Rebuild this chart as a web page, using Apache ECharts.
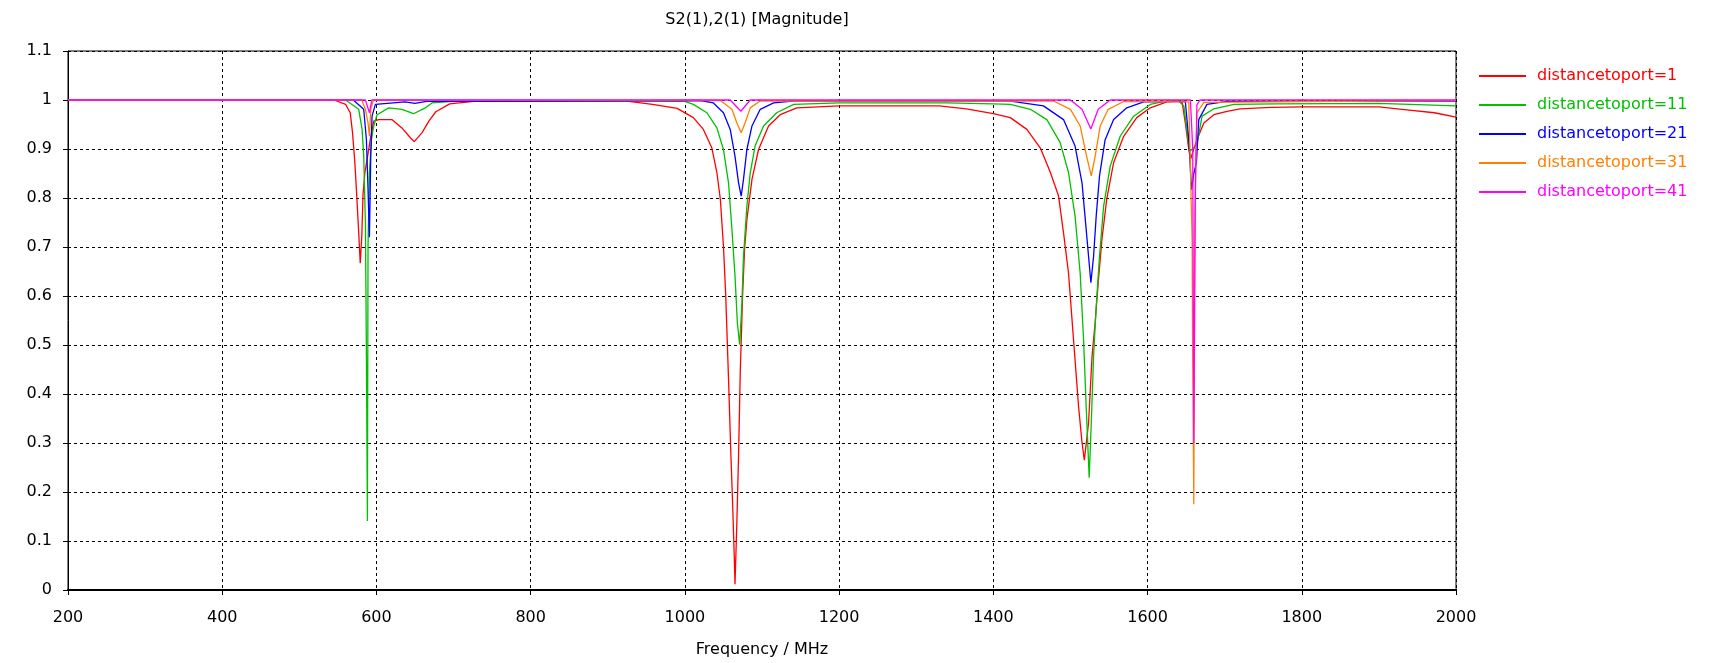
<!DOCTYPE html>
<html>
<head>
<meta charset="utf-8">
<script src="https://cdn.jsdelivr.net/npm/echarts@6/dist/echarts.min.js"></script>
<style>
  html, body { margin: 0; padding: 0; background: #fff; }
  #chart { width: 1716px; height: 663px; }
</style>
</head>
<body>
<div id="chart"></div>
<script>
// x = frequency (MHz), y = |S21|
const port1 = [
  [200, 1], [545, 1], [560, 0.991], [566, 0.974], [569, 0.933], [572, 0.872], [574, 0.818],
  [577, 0.729], [579, 0.667], [581, 0.722], [582.6, 0.807], [585, 0.852], [588, 0.88],
  [592, 0.919], [596.5, 0.957], [603, 0.96], [620, 0.96], [633, 0.943], [644, 0.923],
  [649, 0.915], [659, 0.933], [668, 0.957], [677, 0.976], [695, 0.992], [726, 0.997],
  [927, 0.997], [958, 0.991], [990, 0.983], [1011, 0.964], [1024, 0.94], [1035, 0.902],
  [1041.5, 0.852], [1046, 0.797], [1050, 0.702], [1053, 0.6], [1056.6, 0.43], [1059.7, 0.274],
  [1062, 0.172], [1064, 0.07], [1065, 0.012], [1067.4, 0.138], [1069.6, 0.274], [1071.8, 0.444],
  [1074.8, 0.6], [1077.4, 0.695], [1080.4, 0.756], [1087, 0.838], [1095.5, 0.899],
  [1108.5, 0.947], [1123.6, 0.97], [1145, 0.984], [1200, 0.988], [1330, 0.988], [1365, 0.982],
  [1400, 0.972], [1422, 0.964], [1443.5, 0.94], [1461, 0.902], [1474, 0.852], [1484.6, 0.804],
  [1491, 0.729], [1497.5, 0.647], [1504, 0.511], [1510.5, 0.375], [1515, 0.301], [1518, 0.265],
  [1523.5, 0.341], [1528, 0.477], [1532, 0.545], [1536, 0.627], [1540.8, 0.715], [1547, 0.797],
  [1556, 0.872], [1569, 0.926], [1586, 0.964], [1603.5, 0.984], [1625, 0.996], [1640, 0.998],
  [1645, 0.994], [1649, 0.953], [1653.5, 0.899], [1656, 0.88], [1660, 0.9], [1664, 0.919],
  [1673, 0.953], [1686, 0.97], [1703, 0.977], [1720, 0.982], [1760, 0.985], [1800, 0.986],
  [1900, 0.986], [1936, 0.98], [1972, 0.974], [2000, 0.965]
]
const port11 = [
  [200, 1], [560, 1], [577, 0.981], [581.4, 0.94], [583.5, 0.885], [585.7, 0.749], [587, 0.477],
  [588.3, 0.141], [589.1, 0.702], [590.9, 0.852], [593.5, 0.919], [596.5, 0.947], [600.8, 0.97],
  [616, 0.984], [633, 0.981], [648, 0.972], [663.5, 0.984], [672, 0.994], [704, 0.998],
  [950, 0.998], [1000, 0.997], [1011, 0.991], [1028.5, 0.974], [1041.5, 0.943], [1050, 0.899],
  [1056.6, 0.831], [1061, 0.736], [1065, 0.641], [1068, 0.546], [1071, 0.501], [1074, 0.586],
  [1076, 0.681], [1080.4, 0.783], [1084.7, 0.851], [1091, 0.906], [1102, 0.947], [1119, 0.974],
  [1141, 0.991], [1200, 0.994], [1340, 0.994], [1400, 0.992], [1422, 0.991], [1448, 0.981],
  [1469.4, 0.96], [1486.7, 0.913], [1497.5, 0.852], [1506, 0.763], [1512.6, 0.647], [1517, 0.511],
  [1520.4, 0.375], [1524.3, 0.229], [1527, 0.341], [1530, 0.477], [1533.4, 0.579], [1537.7, 0.681],
  [1543, 0.783], [1551.6, 0.865], [1564.5, 0.926], [1582, 0.967], [1603.5, 0.991], [1625, 0.998],
  [1640, 0.998], [1647, 0.988], [1651, 0.94], [1654.7, 0.895], [1658, 0.9], [1664, 0.909],
  [1670.7, 0.967], [1686, 0.982], [1712, 0.991], [1766, 0.992], [1900, 0.993], [2000, 0.988]
]
const port21 = [
  [200, 1], [570, 1], [583.5, 0.981], [587, 0.919], [589.1, 0.818], [590.9, 0.72], [592.6, 0.885],
  [594.3, 0.967], [598.6, 0.991], [637, 0.996], [650, 0.993], [665, 0.997], [1020, 0.999],
  [1037, 0.994], [1050, 0.974], [1058.8, 0.94], [1065, 0.885], [1069.6, 0.831], [1073, 0.804],
  [1076, 0.838], [1080.4, 0.899], [1087, 0.947], [1097.7, 0.981], [1115, 0.994], [1140, 0.998],
  [1420, 0.998], [1465, 0.988], [1491, 0.96], [1506, 0.906], [1515, 0.831], [1520.4, 0.736],
  [1526.5, 0.627], [1530, 0.681], [1533.4, 0.763], [1537.7, 0.845], [1545, 0.919], [1556, 0.96],
  [1573, 0.984], [1595, 0.996], [1649, 0.997], [1653.5, 0.919], [1657, 0.817], [1660, 0.85],
  [1663.4, 0.872], [1666.4, 0.96], [1677, 0.991], [1703, 0.997], [2000, 0.998]
]
const port31 = [
  [200, 1], [581, 1], [585.7, 0.981], [589.1, 0.953], [590.9, 0.926], [592.6, 0.981], [596, 1],
  [1046, 0.999], [1061, 0.981], [1067.4, 0.953], [1073, 0.933], [1078, 0.953], [1084.7, 0.984],
  [1097.7, 0.998], [1478, 0.998], [1500, 0.981], [1512.6, 0.947], [1521, 0.885], [1527, 0.845],
  [1532, 0.885], [1538.6, 0.947], [1549, 0.981], [1569, 0.997], [1653.5, 0.996], [1657.8, 0.715],
  [1658.6, 0.457], [1660, 0.175], [1661.2, 0.749], [1664, 0.974], [1673, 0.995], [2000, 0.999]
]
const port41 = [
  [200, 1], [585.7, 1], [590.9, 0.974], [594, 1], [1058.8, 1], [1072.6, 0.977], [1084.7, 1],
  [1500, 1], [1515, 0.981], [1526.5, 0.941], [1536, 0.981], [1551.6, 1], [1655.6, 1],
  [1658.6, 0.9], [1660, 0.3], [1662, 0.817], [1664, 0.99], [1668, 1], [2000, 1]
]

const seriesNames = ['distancetoport=1', 'distancetoport=11', 'distancetoport=21', 'distancetoport=31', 'distancetoport=41']
const seriesData = [port1, port11, port21, port31, port41]
const colors = ['#ff0000', '#00c000', '#0000ff', '#ff8000', '#ff00ff']

const FONT = 'DejaVu Sans'

const chart = echarts.init(document.getElementById('chart'), null, { renderer: 'canvas' })

const options = {
  animation: false,
  backgroundColor: '#fff',
  color: colors,
  title: {
    text: 'S2(1),2(1) [Magnitude]',
    left: 752,
    textAlign: 'center',
    top: 7,
    textStyle: { fontFamily: FONT, fontSize: 16, fontWeight: 'normal', color: '#000' }
  },
  legend: {
    orient: 'vertical',
    left: 1474,
    top: 63,
    icon: 'rect',
    itemWidth: 47,
    itemHeight: 2,
    itemGap: 13,
    data: seriesNames.map((name, i) => ({
      name,
      textStyle: { color: colors[i], fontFamily: FONT, fontSize: 16, padding: [0, 0, 0, 6] }
    }))
  },
  grid: {
    left: 68,
    right: 260,
    top: 51,
    bottom: 72,
    show: true,
    borderColor: '#000',
    borderWidth: 1
  },
  xAxis: [{
    type: 'value',
    min: 200,
    max: 2000,
    interval: 200,
    name: 'Frequency / MHz',
    nameLocation: 'middle',
    nameGap: 52,
    nameTextStyle: { fontFamily: FONT, fontSize: 16, color: '#000' },
    axisLine: { onZero: false, lineStyle: { color: '#000', width: 2 } },
    axisTick: { show: true, length: 5, lineStyle: { color: '#000' } },
    axisLabel: { margin: 20, fontFamily: FONT, fontSize: 16, color: '#000', formatter: v => String(v) },
    splitLine: { show: true, lineStyle: { color: '#000', type: [3, 3], width: 1 } }
  }, {
    // heavy top frame line only
    type: 'value',
    position: 'top',
    min: 200,
    max: 2000,
    axisLine: { show: true, lineStyle: { color: '#000', width: 2 } },
    axisTick: { show: false },
    axisLabel: { show: false },
    splitLine: { show: false }
  }],
  yAxis: {
    type: 'value',
    min: 0,
    max: 1.1,
    interval: 0.1,
    axisLine: { show: true, lineStyle: { color: '#000', width: 1 } },
    axisTick: { show: true, length: 5, lineStyle: { color: '#000' } },
    axisLabel: {
      margin: 16,
      fontFamily: FONT,
      fontSize: 16,
      color: '#000',
      formatter: v => String(+v.toFixed(1))
    },
    splitLine: { show: true, lineStyle: { color: '#000', type: [3, 3], width: 1 } }
  },
  series: seriesNames.map((name, i) => ({
    name,
    type: 'line',
    data: seriesData[i],
    symbol: 'none',
    lineStyle: { width: 1.3, color: colors[i] },
    itemStyle: { color: colors[i] }
  }))
}

chart.setOption(options)
</script>
</body>
</html>
